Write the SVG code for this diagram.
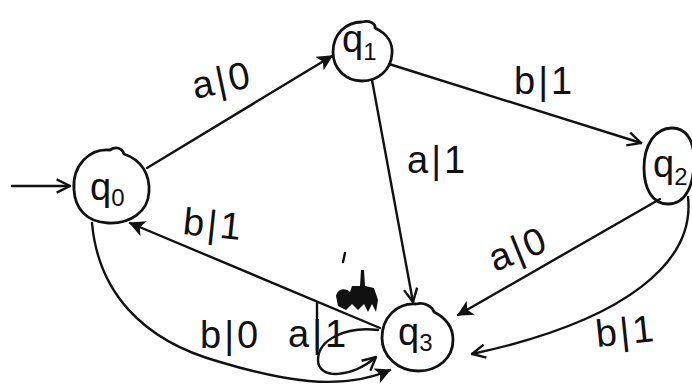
<svg xmlns="http://www.w3.org/2000/svg" width="692" height="392" viewBox="0 0 692 392">
<style>
.st{fill:none;stroke:#111;stroke-width:2.8;stroke-linecap:round;stroke-linejoin:round}
.ed{fill:none;stroke:#111;stroke-width:2.4;stroke-linecap:round}
.lb{font-family:"Liberation Sans",Arial,sans-serif;font-size:38px;fill:#111;letter-spacing:3px}
.q{font-family:"Liberation Sans",Arial,sans-serif;font-size:38px;fill:#111}
.sub{font-size:24px}
</style>
<defs>
<marker id="fill" viewBox="0 0 12 12" refX="11" refY="6" markerWidth="16" markerHeight="16" markerUnits="userSpaceOnUse" orient="auto">
<path d="M0,0 L12,6 L0,12 L3,6 z" fill="#111"/>
</marker>
<marker id="open" viewBox="0 0 12 12" refX="11" refY="6" markerWidth="16" markerHeight="16" markerUnits="userSpaceOnUse" orient="auto">
<path d="M1,1 L11,6 L1,11" fill="none" stroke="#111" stroke-width="1.8"/>
</marker>
</defs>
<rect width="692" height="392" fill="#fff"/>
<g id="connectors">
<path class="ed" d="M12,186 L70,186" marker-end="url(#open)"/>
<path class="ed" d="M147,168 L332,56" marker-end="url(#fill)"/>
<path class="ed" d="M389,64 L641,143" marker-end="url(#open)"/>
<path class="ed" d="M372,80 L413,302" marker-end="url(#open)"/>
<path class="ed" d="M660,199 L458,315" marker-end="url(#fill)"/>
<path class="ed" d="M380,328 L130,223" marker-end="url(#fill)"/>
<path class="ed" d="M92,223 C98,290 140,340 220,362 C280,380 340,392 390,370" marker-end="url(#fill)"/>
<path class="ed" d="M378,330 C345,326 318,340 318,360 C318,380 352,378 376,357" marker-end="url(#open)"/>
<path class="ed" d="M688,197 C695,260 630,320 472,354" marker-end="url(#open)"/>
<path class="ed" d="M317,303 L317,350"/>
<path class="ed" d="M345,253 L343,262"/>
<path d="M336,296 C338,288 346,288 350,292 L352,286 L360,286 L361,270 L364,270 L365,286 L374,288 L378,300 L376,312 L372,304 L368,312 L364,304 L358,310 L352,304 L346,310 L338,306 z" fill="#111"/>
</g>
<g id="q0">
<path class="st" d="M74,190 C72,165 90,148 110,150 C116,146 122,148 124,154 C142,160 150,175 149,192 C148,212 130,224 108,223 C86,222 75,208 74,190 z"/>
<text class="q" x="90" y="200">q<tspan class="sub" dy="6">0</tspan></text>
</g>
<g id="q1">
<path class="st" d="M333,52 C333,34 346,22 362,22 C370,20 376,24 375,28 C388,34 393,44 392,54 C391,70 378,81 362,81 C345,81 333,68 333,52 z"/>
<text class="q" x="342" y="52">q<tspan class="sub" dy="8">1</tspan></text>
</g>
<g id="q2">
<path class="st" d="M644,168 C644,145 655,128 672,128 C686,128 694,140 694,160 C694,185 686,204 668,204 C652,204 644,188 644,168 z"/>
<text class="q" x="653" y="177">q<tspan class="sub" dy="8">2</tspan></text>
</g>
<g id="q3">
<path class="st" d="M382,338 C382,318 396,303 416,304 C424,302 432,306 434,312 C446,318 453,328 453,340 C453,358 438,371 418,371 C398,371 382,356 382,338 z"/>
<text class="q" x="398" y="345">q<tspan class="sub" dy="6">3</tspan></text>
</g>
<g id="labels">
<text class="lb" transform="rotate(-12 195 99)" x="195" y="99">a|0</text>
<text class="lb" x="514" y="94">b|1</text>
<text class="lb" x="407" y="173">a|1</text>
<text class="lb" transform="rotate(-22 495 272)" x="495" y="272">a|0</text>
<text class="lb" transform="rotate(6 182 234)" x="182" y="234">b|1</text>
<text class="lb" x="200" y="348">b|0</text>
<text class="lb" x="288" y="347">a|1</text>
<text class="lb" transform="rotate(-6 597 347)" x="597" y="347">b|1</text>
</g>
</svg>
